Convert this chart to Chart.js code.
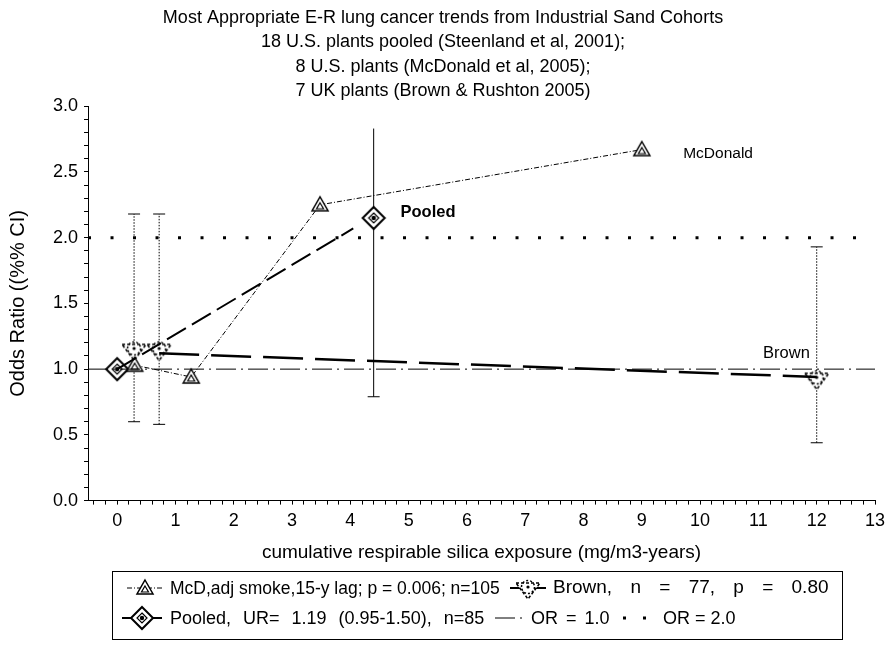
<!DOCTYPE html>
<html><head><meta charset="utf-8">
<script src="https://cdn.jsdelivr.net/npm/chart.js@4"></script>
<style>
body{margin:0;background:#fff;}
#wrap{position:relative;width:886px;height:649px;overflow:hidden;}
#c{position:absolute;left:0;top:0;}
#legend{position:absolute;left:112px;top:571px;width:731px;height:69px;border:1px solid #000;box-sizing:border-box;font:18px "Liberation Sans",Arial,sans-serif;color:#000;}
.it{position:absolute;white-space:nowrap;line-height:20px;}
.mk{position:absolute;}
</style></head>
<body>
<div id="wrap">
<canvas id="c" width="886" height="649"></canvas>
<div id="legend">
  <canvas class="mk" id="lg1" width="40" height="24" style="left:12px;top:4px"></canvas>
  <span class="it" style="left:57px;top:6px;font-size:17.5px">McD,adj smoke,15-y lag; p = 0.006; n=105</span>
  <canvas class="mk" id="lg2" width="40" height="24" style="left:395px;top:4px"></canvas>
  <span class="it" style="left:440px;top:5px;font-size:19px;word-spacing:13px">Brown, n = 77, p = 0.80</span>
  <canvas class="mk" id="lg3" width="44" height="26" style="left:7px;top:33px"></canvas>
  <span class="it" style="left:57px;top:36px;word-spacing:7px">Pooled, UR= 1.19 (0.95-1.50), n=85</span>
  <canvas class="mk" id="lg4" width="36" height="24" style="left:380px;top:34px"></canvas>
  <span class="it" style="left:418px;top:36px;word-spacing:3px">OR = 1.0</span>
  <canvas class="mk" id="lg5" width="36" height="24" style="left:508px;top:34px"></canvas>
  <span class="it" style="left:550px;top:36px">OR = 2.0</span>
</div>
</div>
<script>
// ---- data ----
const mcdX = [0.3, 1.27, 3.48, 9.0];
const mcdY = [1.03, 0.94, 2.25, 2.67];
const pooledX = [0, 4.4];
const pooledY = [1.0, 2.15];
const pooledLow = [null, 0.79];
const pooledHigh = [null, 2.83];
const pooledTrendX = [0, 4.05];
const pooledTrendY = [1.0, 2.07];
const brownX = [0.29, 0.72, 12];
const brownY = [1.15, 1.15, 0.93];
const brownLow = [0.60, 0.58, 0.44];
const brownHigh = [2.18, 2.18, 1.93];
const brownTrendX = [0.72, 12];
const brownTrendY = [1.12, 0.94];
const refX = [-0.5, 13];
const or1Y = [1, 1];
const or2Y = [2, 2];
const xTickLabels = [0,1,2,3,4,5,6,7,8,9,10,11,12,13];
const yTickLabels = ['0.0','0.5','1.0','1.5','2.0','2.5','3.0'];
const titleLines = ['Most Appropriate E-R lung cancer trends from Industrial Sand Cohorts',
  '18 U.S. plants pooled (Steenland et al, 2001);',
  '8 U.S. plants (McDonald et al, 2005);',
  '7 UK plants (Brown & Rushton 2005)'];
const annotations = [
  {text:'McDonald', x:9.71, y:2.64, bold:false, size:15.5},
  {text:'Pooled', x:4.86, y:2.19, bold:true, size:16.5},
  {text:'Brown', x:11.08, y:1.12, bold:false, size:16.5}
];

const FONT = '"Liberation Sans", Arial, sans-serif';

// ---- marker drawers ----
function drawTri(ctx, cx, cy) {
  ctx.save(); ctx.strokeStyle='#000'; ctx.fillStyle='#fff'; ctx.lineWidth=1.5;
  ctx.beginPath(); ctx.moveTo(cx, cy-8); ctx.lineTo(cx+8, cy+6); ctx.lineTo(cx-8, cy+6); ctx.closePath();
  ctx.fill(); ctx.stroke();
  ctx.lineWidth=1.2;
  ctx.beginPath(); ctx.moveTo(cx, cy-2); ctx.lineTo(cx+3.5, cy+4); ctx.lineTo(cx-3.5, cy+4); ctx.closePath(); ctx.stroke();
  ctx.restore();
}
function drawDiamond(ctx, cx, cy) {
  ctx.save(); ctx.strokeStyle='#000'; ctx.fillStyle='#fff'; ctx.lineWidth=2;
  ctx.beginPath(); ctx.moveTo(cx, cy-11); ctx.lineTo(cx+11, cy); ctx.lineTo(cx, cy+11); ctx.lineTo(cx-11, cy); ctx.closePath();
  ctx.fill(); ctx.stroke();
  ctx.lineWidth=1.2;
  ctx.beginPath(); ctx.moveTo(cx, cy-5); ctx.lineTo(cx+5, cy); ctx.lineTo(cx, cy+5); ctx.lineTo(cx-5, cy); ctx.closePath(); ctx.stroke();
  ctx.fillStyle='#000';
  ctx.beginPath(); ctx.arc(cx, cy, 2.2, 0, Math.PI*2); ctx.fill();
  ctx.restore();
}
function drawBrown(ctx, cx, cy) {
  ctx.save(); ctx.strokeStyle='#000'; ctx.fillStyle='#fff'; ctx.lineWidth=1.5;
  ctx.beginPath(); ctx.moveTo(cx-12, cy-5); ctx.lineTo(cx+12, cy-5); ctx.lineTo(cx, cy+11); ctx.closePath(); ctx.fill();
  ctx.setLineDash([3,2]); ctx.stroke();
  ctx.setLineDash([2,2]);
  ctx.beginPath(); ctx.arc(cx, cy-1, 6.5, 0, Math.PI*2); ctx.stroke();
  ctx.setLineDash([]);
  ctx.fillStyle='#000';
  ctx.beginPath(); ctx.arc(cx, cy-1, 1.6, 0, Math.PI*2); ctx.fill();
  ctx.restore();
}
function makeImg(fn, w, h) {
  const c = document.createElement('canvas'); c.width=w; c.height=h;
  fn(c.getContext('2d'), w/2, h/2); return c;
}
const triImg = makeImg(drawTri, 20, 20);
const diaImg = makeImg(drawDiamond, 26, 26);
const brownImg = makeImg(drawBrown, 28, 26);

const pts = (xs, ys) => xs.map((x,i) => ({x, y: ys[i]}));

// ---- plugin: error bars + annotations ----
const extras = {
  id: 'extras',
  beforeDatasetsDraw(chart) {
    const {ctx, scales:{x, y}} = chart;
    ctx.save(); ctx.strokeStyle='#000';
    function bar(xv, lo, hi, dash, capTop) {
      if (lo == null) return;
      const px = x.getPixelForValue(xv);
      ctx.lineWidth = 1; ctx.setLineDash(dash);
      ctx.beginPath(); ctx.moveTo(px, y.getPixelForValue(lo)); ctx.lineTo(px, y.getPixelForValue(hi)); ctx.stroke();
      ctx.setLineDash([]);
      ctx.beginPath();
      ctx.moveTo(px-6, y.getPixelForValue(lo)); ctx.lineTo(px+6, y.getPixelForValue(lo));
      if (capTop) { ctx.moveTo(px-6, y.getPixelForValue(hi)); ctx.lineTo(px+6, y.getPixelForValue(hi)); }
      ctx.stroke();
    }
    brownX.forEach((xv,i) => bar(xv, brownLow[i], brownHigh[i], [1.5,1.5], true));
    pooledX.forEach((xv,i) => bar(xv, pooledLow[i], pooledHigh[i], [], false));
    ctx.restore();
  },
  afterDatasetsDraw(chart) {
    const {ctx, scales:{x, y}} = chart;
    ctx.save(); ctx.fillStyle='#000'; ctx.textBaseline='middle'; ctx.textAlign='left';
    annotations.forEach(a => {
      ctx.font = (a.bold ? 'bold ' : '') + a.size + 'px ' + FONT;
      ctx.fillText(a.text, x.getPixelForValue(a.x), y.getPixelForValue(a.y));
    });
    ctx.restore();
  }
};

const xMinor = []; for (let i=-2; i<=65; i++) xMinor.push(i/5);
const yMinor = []; for (let i=0; i<=30; i++) yMinor.push(i/10);

new Chart(document.getElementById('c'), {
  type: 'scatter',
  data: { datasets: [
    {label:'OR = 1.0', data: pts(refX, or1Y), showLine:true, borderColor:'#000', borderWidth:1, borderDash:[20,5,2,5], pointRadius:0},
    {label:'OR = 2.0', data: pts(refX, or2Y), showLine:true, borderColor:'#000', borderWidth:3, borderDash:[3,19.5], pointRadius:0},
    {label:'Pooled trend', data: pts(pooledTrendX, pooledTrendY), showLine:true, borderColor:'#000', borderWidth:2, borderDash:[22,7], pointRadius:0},
    {label:'Brown trend', data: pts(brownTrendX, brownTrendY), showLine:true, borderColor:'#000', borderWidth:2.5, borderDash:[40,12], pointRadius:0},
    {label:'McD', data: pts(mcdX, mcdY), showLine:true, borderColor:'#000', borderWidth:1, borderDash:[5,2,1,2], pointStyle: triImg, pointRadius:8},
    {label:'Brown', data: pts(brownX, brownY), showLine:false, pointStyle: brownImg, pointRadius:10},
    {label:'Pooled', data: pts(pooledX, pooledY), showLine:false, pointStyle: diaImg, pointRadius:10}
  ]},
  options: {
    responsive:false, animation:false, events: [],
    layout: {padding: {left: 0, right: 0, top: 0, bottom: 85}},
    plugins: {
      legend: {display:false}, tooltip:{enabled:false},
      title: {display:true, text:titleLines, color:'#000', font:{family:FONT, size:18, weight:'normal', lineHeight:1.35}, padding:{top:6, bottom:3}}
    },
    scales: {
      x: {type:'linear', min:-0.5, max:13,
        afterBuildTicks: s => { s.ticks = xMinor.map(v => ({value:v})); },
        afterFit: s => { s.paddingRight = 11; },
        ticks: {autoSkip:false, maxRotation:0, color:'#000', font:{family:FONT, size:18}, padding:6,
          callback: v => { const r = Math.round(v); return (Math.abs(v-r) < 1e-6 && xTickLabels.includes(r)) ? String(r) : ''; }},
        grid: {drawOnChartArea:false, drawTicks:true, tickLength:4, color:'#000'},
        border: {display:true, color:'#000', width:1},
        title: {display:true, text:'cumulative respirable silica exposure (mg/m3-years)', color:'#000', font:{family:FONT, size:19}, padding:{top:3, bottom:0}}
      },
      y: {type:'linear', min:0, max:3,
        afterBuildTicks: s => { s.ticks = yMinor.map(v => ({value:v})); },
        ticks: {autoSkip:false, color:'#000', font:{family:FONT, size:18}, padding:6,
          callback: v => { const i = Math.round(v*10); return i % 5 === 0 ? yTickLabels[i/5] : ''; }},
        grid: {drawOnChartArea:false, drawTicks:true, tickLength:4, color:'#000'},
        border: {display:true, color:'#000', width:1},
        title: {display:true, text:'Odds Ratio ((%% CI)', color:'#000', font:{family:FONT, size:20}, padding:{top:6, bottom:17}}
      }
    }
  },
  plugins: [extras]
});

// ---- legend markers ----
function lineSample(id, dash, width, marker) {
  const c = document.getElementById(id), ctx = c.getContext('2d');
  ctx.strokeStyle='#000'; ctx.lineWidth=width; ctx.setLineDash(dash);
  ctx.beginPath(); ctx.moveTo(2, c.height/2); ctx.lineTo(c.width-2, c.height/2); ctx.stroke();
  ctx.setLineDash([]);
  if (marker) marker(ctx, c.width/2, c.height/2);
}
lineSample('lg1', [5,2,1,2], 1, drawTri);
lineSample('lg2', [40,12], 2, drawBrown);
lineSample('lg3', [22,7], 2, drawDiamond);
lineSample('lg4', [20,5,2,5], 1, null);
lineSample('lg5', [3,17], 3, null);
</script>
</body></html>
